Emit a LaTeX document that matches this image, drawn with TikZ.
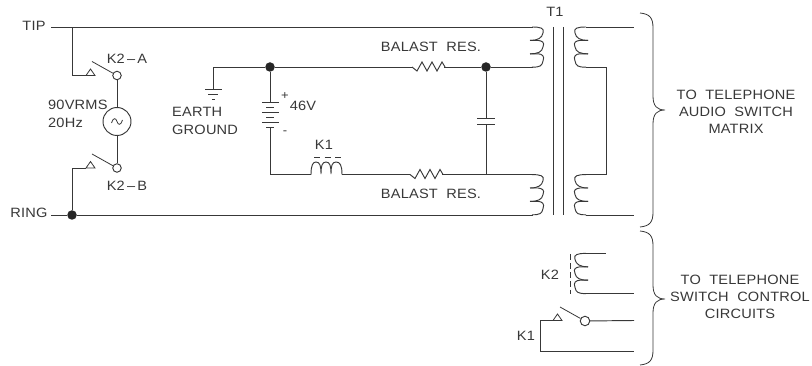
\documentclass[tikz,border=0pt]{standalone}
\usepackage{fontspec}
\setmainfont[FakeStretch=1.08,LetterSpace=1.5]{Liberation Sans}
\usetikzlibrary{calc}
\definecolor{ink}{gray}{0.22}
\tikzstyle{wire}=[draw=ink, line width=0.95pt]
\tikzstyle{thin}=[draw=ink, line width=0.8pt]
\tikzstyle{annot}=[align=center, text=ink, inner sep=0pt, font=\fontsize{13.5}{17}\selectfont]
\tikzstyle{annotl}=[annot, anchor=west, align=left]
\tikzstyle{dot}=[circle, fill=black!85, minimum size=9.5pt, inner sep=0pt]
\tikzstyle{contact}=[circle, wire, fill=white, minimum size=8.5pt, inner sep=0pt]
\newcommand{\drawcoil}[3]
{
  % three bumps, #3 = 1 bulges right, -1 bulges left
  \begin{scope}[shift={(#1,#2)},xscale=#3]
    \draw[wire] (-5,0) .. controls (3,0) and (8,1) .. (6,6) .. controls (5,11) and (1,13.4) .. (-7,13.4);
    \draw[wire] (-7,13.4) -- (1,13.4) .. controls (5,14) and (8,15) .. (6,20) .. controls (5,25) and (1,26.8) .. (-7,26.8);
    \draw[wire] (-7,26.8) -- (1,26.8) .. controls (5,27) and (8,29) .. (6,34) .. controls (5,39) and (3,40.2) .. (-5,40.2);
  \end{scope}
}
\newcommand{\drawres}[1]
{
  \draw[wire] (#1) -- ++(5,4) -- ++(5,-9) -- ++(5,9) -- ++(5,-9) -- ++(5,9) -- ++(5,-9) -- ++(3,5);
}
\newcommand{\drawseat}[1]
{
  \draw[thin] (#1) -- ++(4.5,-6.5) -- ++(4.5,6.5) -- cycle;
}
\begin{document}
\begin{tikzpicture}[x=1pt,y=-1pt]
	\useasboundingbox (0,0) rectangle (812,366);

	% left side
	\node[annot](tip) at (34,26) {TIP};
	\node[annot](ring) at (29,213) {RING};
	\coordinate (tipend) at (51,27);
	\coordinate (ringend) at (51,215);
	\coordinate (tipjoin) at (72,27);
	\node[dot](ringdot) at (72,215) {};
	\coordinate (seatA) at (86,75.5);
	\coordinate (seatB) at (86,168);
	\node[contact](contA) at (117,75.5) {};
	\node[contact](contB) at (117,168) {};
	\node[circle, wire, minimum size=28pt, inner sep=0pt](source) at (117,121.5) {};
	\coordinate (bladeA) at (92,61.5);
	\coordinate (bladeB) at (92,154);
	\node[annot](k2a) at (127,59) {K2\,–\,A};
	\node[annot](k2b) at (127,186) {K2\,–\,B};
	\node[annotl](vrms) at (48,105) {90VRMS};
	\node[annotl](hz) at (48,123) {20Hz};

	\draw[wire] (tipend) -- (tipjoin) -- (tipjoin |- seatA) -- (seatA);
	\draw[wire] (ringend) -- (ringdot) -- (ringdot |- seatB) -- (seatB);
	\drawseat{seatA}
	\drawseat{seatB}
	\draw[thin] (bladeA) -- (contA);
	\draw[thin] (bladeB) -- (contB);
	\draw[wire] (contA) -- (source);
	\draw[wire] (source) -- (contB);
	\draw[thin] ($(source)+(-5.5,1.5)$) .. controls ($(source)+(-4,-4)$) and ($(source)+(-1,-4)$) .. (source.center) .. controls ($(source)+(1,4)$) and ($(source)+(4,4)$) .. ($(source)+(5.5,-1.5)$);

	% ground and battery
	\node[dot](dotL) at (270,67) {};
	\coordinate (gnd) at (213,89);
	\draw[wire] (dotL) -- (gnd |- dotL) -- (gnd);
	\draw[thin] (205,89) -- (222,89);
	\draw[thin] (208,94.5) -- (218,94.5);
	\draw[thin] (212,99.5) -- (215,99.5);
	\node[annotl](earth) at (172,112) {EARTH};
	\node[annotl](ground) at (172,130) {GROUND};
	\coordinate (batt) at (270,102.5);
	\coordinate (battb) at (270,127.5);
	\coordinate (lowL) at (270,174.5);
	\draw[wire] (dotL) -- (batt);
	\foreach \yy in {102.5,112.5,122.5}
		\draw[thin] (262,\yy) -- (279,\yy);
	\foreach \yy in {107.5,117.5,127.5}
		\draw[thin] (266,\yy) -- (274,\yy);
	\draw[wire] (battb) -- (lowL);
	\node[annot](plus) at (285,96) {\fontsize{12}{12}\selectfont +};
	\node[annot](v46) at (303,106) {46V};
	\node[annot](minus) at (285,133) {\fontsize{12}{12}\selectfont -};

	% relay coil K1
	\coordinate (k1in) at (311,174.5);
	\coordinate (k1out) at (342,174.5);
	\draw[wire] (lowL) -- (k1in) .. controls (311,165) and (313,162) .. (316,162) .. controls (320,162) and (321,166) .. (321,174) .. controls (321,166) and (322,162) .. (326,162) .. controls (330,162) and (331,166) .. (331,174) .. controls (331,166) and (332,162) .. (336,162) .. controls (340,162) and (342,165) .. (k1out);
	\draw[thin, dash pattern=on 6pt off 4.5pt] (314,157) -- (342,157);
	\node[annot](k1top) at (324,145) {K1};

	% balast resistors
	\coordinate (resT) at (412,67);
	\coordinate (resB) at (410,174.5);
	\coordinate (resTr) at (444,67);
	\coordinate (resBr) at (442,174.5);
	\node[dot](dotR) at (486,67) {};
	\coordinate (lowR) at (486,174.5);
	\draw[wire] (dotL) -- (resT);
	\drawres{resT}
	\draw[wire] (resTr) -- (dotR);
	\draw[wire] (k1out) -- (resB);
	\drawres{resB}
	\draw[wire] (resBr) -- (lowR);
	\node[annot](balT) at (431,47) {BALAST\ \ RES.};
	\node[annot](balB) at (431,194) {BALAST\ \ RES.};

	% capacitor
	\coordinate (capT) at (486,118);
	\coordinate (capB) at (486,124);
	\draw[wire] (dotR) -- (capT);
	\draw[wire] (capB) -- (lowR);
	\draw[thin] (477,118) -- (495,118);
	\draw[thin] (477,124) -- (495,124);

	% transformer
	\coordinate (priA) at (533,27);
	\coordinate (priB) at (533,67);
	\coordinate (priC) at (533,174.5);
	\coordinate (priD) at (533,215);
	\draw[wire] (tipend) -- (priA);
	\draw[wire] (dotR) -- (priB);
	\draw[wire] (lowR) -- (priC);
	\draw[wire] (ringdot) -- (priD);
	\drawcoil{537}{27}{1}
	\drawcoil{537}{174.6}{1}
	\drawcoil{581}{27}{-1}
	\drawcoil{581}{174.6}{-1}
	\draw[thin] (553,27) -- (553,215);
	\draw[thin] (563.5,27) -- (563.5,215);
	\node[annot](t1) at (555,12) {T1};
	\coordinate (secA) at (586,27);
	\coordinate (secB) at (586,67);
	\coordinate (secC) at (586,174.5);
	\coordinate (secD) at (586,215);
	\coordinate (secR) at (606,67);
	\coordinate (outA) at (634,27);
	\coordinate (outB) at (634,215);
	\draw[wire] (secA) -- (outA);
	\draw[wire] (secD) -- (outB);
	\draw[wire] (secB) -- (secR) -- (secR |- secC) -- (secC);

	% relay K2 and contact K1
	\drawcoil{581}{253.4}{-1}
	\coordinate (k2A) at (586,253.5);
	\coordinate (k2B) at (586,293.6);
	\coordinate (k2Ae) at (606,253.5);
	\coordinate (k2Be) at (634,293.6);
	\draw[wire] (k2A) -- (k2Ae);
	\draw[wire] (k2B) -- (k2Be);
	\draw[thin, dash pattern=on 6pt off 3pt] (570,254) -- (570,294);
	\node[annot](k2) at (550,275) {K2};
	\coordinate (seatK) at (553,320.5);
	\coordinate (bladeK) at (560,307);
	\coordinate (cornerK) at (540,320.5);
	\coordinate (cornerL) at (540,351);
	\coordinate (endK) at (634,320.5);
	\coordinate (endL) at (634,351);
	\node[contact, minimum size=9.5pt](contK) at (585,321) {};
	\draw[wire] (seatK) -- (cornerK) -- (cornerL) -- (endL);
	\drawseat{seatK}
	\draw[thin] (bladeK) -- (contK);
	\draw[wire] (contK) -- (endK);
	\node[annot](k1) at (526,336) {K1};

	% braces
	\coordinate (braceA) at (640,13);
	\coordinate (tipA) at (665,110);
	\coordinate (endA) at (640,227);
	\coordinate (braceB) at (640,231);
	\coordinate (tipB) at (665,299);
	\coordinate (endB) at (640,365);
	\draw[thin] (braceA) .. controls (650,14) and (653,18) .. (653,28) -- (653,96) .. controls (653,106) and (657,110) .. (tipA) .. controls (657,110) and (653,114) .. (653,124) -- (653,212) .. controls (653,222) and (650,226) .. (endA);
	\draw[thin] (braceB) .. controls (650,232) and (653,236) .. (653,246) -- (653,285) .. controls (653,295) and (657,299) .. (tipB) .. controls (657,299) and (653,303) .. (653,313) -- (653,350) .. controls (653,360) and (650,364) .. (endB);
	\node[annot](audio) at (736,112) {TO\ \ TELEPHONE\\AUDIO\ \ SWITCH\\MATRIX};
	\node[annot](control) at (740,297) {TO\ \ TELEPHONE\\SWITCH\ \ CONTROL\\CIRCUITS};
\end{tikzpicture}
\end{document}
